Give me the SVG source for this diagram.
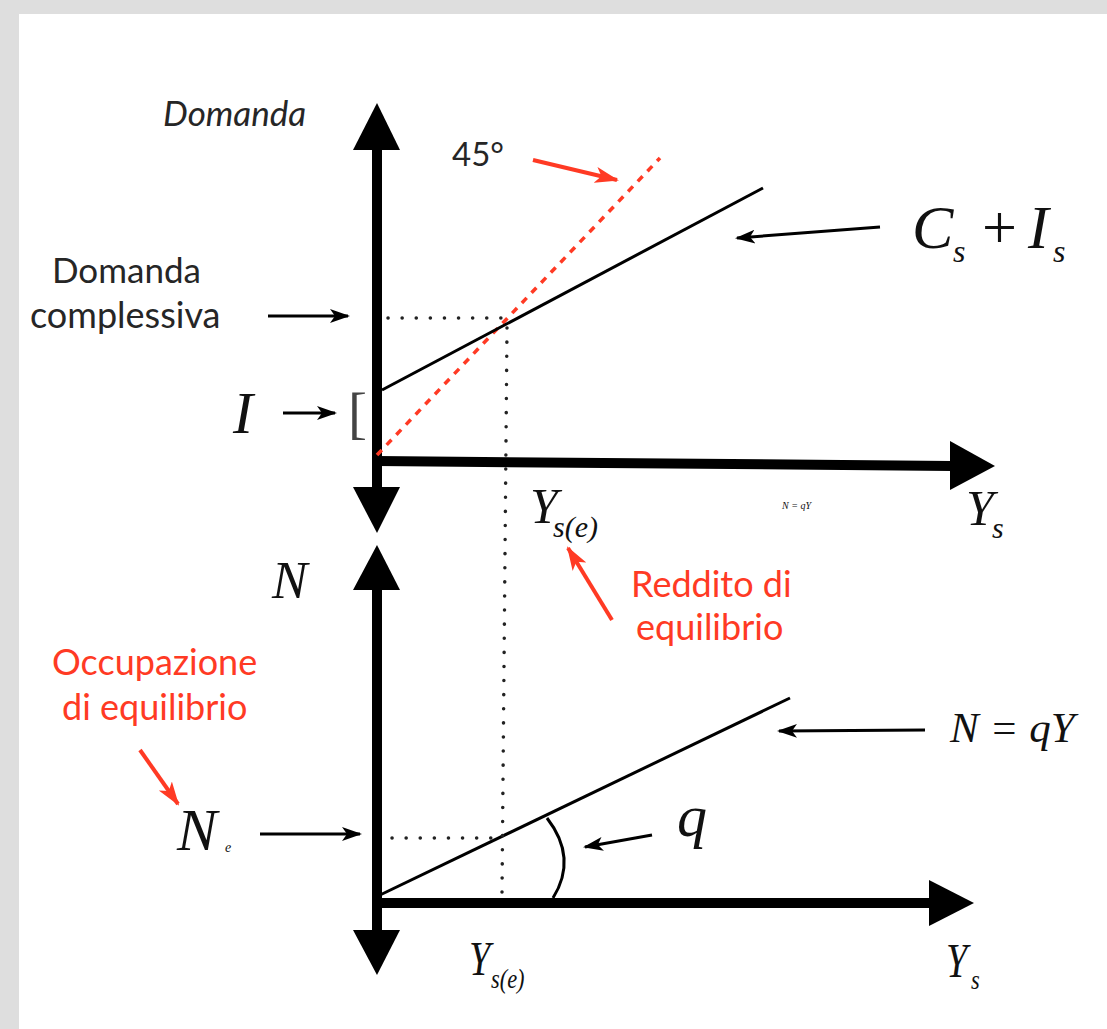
<svg xmlns="http://www.w3.org/2000/svg" width="1107" height="1029" viewBox="0 0 1107 1029">
<style>
.sans{font-family:Lato,"Open Sans","DejaVu Sans",sans-serif;fill:#262626}
.red{fill:#ff3a24}
.math{font-family:"Liberation Serif","Times New Roman",serif;font-style:italic;fill:#111}
.axis{stroke:#000;stroke-width:10;fill:none}
.head{fill:#000}
.thin{stroke:#000;stroke-width:3;fill:none}
.lbl{stroke:#000;stroke-width:3;fill:none;marker-end:url(#ah)}
.rarr{stroke:#ff3a24;stroke-width:4;fill:none;marker-end:url(#rh)}
.dot{stroke:#222;stroke-width:3.5;fill:none;stroke-dasharray:0.1 14;stroke-linecap:round}
</style>
<defs>
<marker id="ah" viewBox="0 0 20 16" refX="18" refY="8" markerWidth="20" markerHeight="16" markerUnits="userSpaceOnUse" orient="auto">
<path d="M0,1 L20,8 L0,15 L5,8 z" fill="#000"/>
</marker>
<marker id="rh" viewBox="0 0 24 18" refX="22" refY="9" markerWidth="24" markerHeight="18" markerUnits="userSpaceOnUse" orient="auto">
<path d="M0,1 L24,9 L0,17 L6,9 z" fill="#ff3a24"/>
</marker>
</defs>
<rect x="0" y="0" width="1107" height="1029" fill="#dedede"/>
<rect x="19" y="14" width="1088" height="1015" fill="#ffffff"/>

<g id="axes">
<line class="axis" x1="377" y1="145" x2="377" y2="490"/>
<polygon class="head" points="377,103 353,150 400,150"/>
<polygon class="head" points="353,487 400,487 377,533"/>
<line class="axis" x1="377" y1="461" x2="952" y2="466"/>
<polygon class="head" points="950,441 995,466 950,490"/>
<line class="axis" x1="377" y1="585" x2="377" y2="933"/>
<polygon class="head" points="377,545 353,590 400,590"/>
<polygon class="head" points="353,930 400,930 377,975"/>
<line class="axis" x1="377" y1="903" x2="932" y2="903"/>
<polygon class="head" points="929,880 974,903 929,926"/>
</g>

<g id="curves">
<line x1="377" y1="455" x2="660" y2="158" stroke="#ff3a24" stroke-width="3.5" stroke-dasharray="7 7"/>
<line class="thin" x1="382" y1="390" x2="763" y2="188"/>
<line class="thin" x1="380" y1="895" x2="790" y2="698"/>
<line class="dot" x1="388" y1="318" x2="505" y2="318"/>
<line class="dot" x1="507" y1="328" x2="502" y2="893"/>
<line class="dot" x1="392" y1="838" x2="497" y2="838"/>
<path class="thin" d="M547,818 Q578,858 553,898"/>
</g>

<g id="connectors">
<line class="lbl" x1="268" y1="316" x2="348" y2="316"/>
<line class="lbl" x1="283" y1="413" x2="335" y2="413"/>
<line class="lbl" x1="880" y1="227" x2="737" y2="238"/>
<line class="lbl" x1="260" y1="834" x2="360" y2="834"/>
<line class="lbl" x1="652" y1="835" x2="585" y2="847"/>
<line class="lbl" x1="925" y1="730" x2="779" y2="731" stroke-width="2.5"/>
<line class="rarr" x1="533" y1="160" x2="617" y2="180"/>
<line class="rarr" x1="612" y1="620" x2="568" y2="548"/>
<line class="rarr" x1="140" y1="750" x2="178" y2="804"/>
</g>

<g id="label-domanda-axis"><text class="sans" x="163" y="126" font-size="35" font-style="italic">Domanda</text></g>
<g id="label-45"><text class="sans" x="452" y="166" font-size="33">45°</text></g>
<g id="label-domanda-complessiva">
<text class="sans" x="52" y="283" font-size="35">Domanda</text>
<text class="sans" x="30" y="328" font-size="36">complessiva</text>
</g>
<g id="label-I">
<text class="math" x="233" y="433" font-size="60">I</text>
<text x="348" y="432" font-size="57" font-family="'Liberation Serif',serif" fill="#444">[</text>
</g>
<g id="label-CI">
<text class="math" x="912" y="248" font-size="62">C</text>
<text class="math" x="953" y="262" font-size="32">s</text>
<text x="982" y="248" font-size="62" font-family="'Liberation Serif',serif" fill="#111">+</text>
<text class="math" x="1028" y="248" font-size="62">I</text>
<text class="math" x="1053" y="262" font-size="32">s</text>
</g>
<g id="label-Yse-top">
<text class="math" x="530" y="523" font-size="50">Y</text>
<text class="math" x="553" y="537" font-size="30">s(e)</text>
</g>
<g id="label-NqY-small"><text class="math" x="782" y="509" font-size="10" fill="#666">N = qY</text></g>
<g id="label-Ys-top">
<text class="math" x="966" y="525" font-size="50">Y</text>
<text class="math" x="992" y="538" font-size="30">s</text>
</g>
<g id="label-reddito">
<text class="sans red" x="631" y="597" font-size="36">Reddito di</text>
<text class="sans red" x="636" y="640" font-size="36">equilibrio</text>
</g>
<g id="label-N"><text class="math" x="272" y="598" font-size="53">N</text></g>
<g id="label-occupazione">
<text class="sans red" x="52" y="675" font-size="36">Occupazione</text>
<text class="sans red" x="62" y="720" font-size="36">di equilibrio</text>
</g>
<g id="label-Ne">
<text class="math" x="177" y="850" font-size="60">N</text>
<text class="math" x="225" y="852" font-size="14">e</text>
</g>
<g id="label-q"><text class="math" x="677" y="836" font-size="60">q</text></g>
<g id="label-NqY"><text class="math" x="950" y="742" font-size="43">N = qY</text></g>
<g id="label-Yse-bottom">
<text class="math" transform="translate(469,975) scale(0.8,1)" font-size="48">Y</text>
<text class="math" transform="translate(491,988) scale(0.8,1)" font-size="28">s(e)</text>
</g>
<g id="label-Ys-bottom">
<text class="math" transform="translate(946,977) scale(0.8,1)" font-size="48">Y</text>
<text class="math" transform="translate(971,989) scale(0.8,1)" font-size="28">s</text>
</g>
</svg>
